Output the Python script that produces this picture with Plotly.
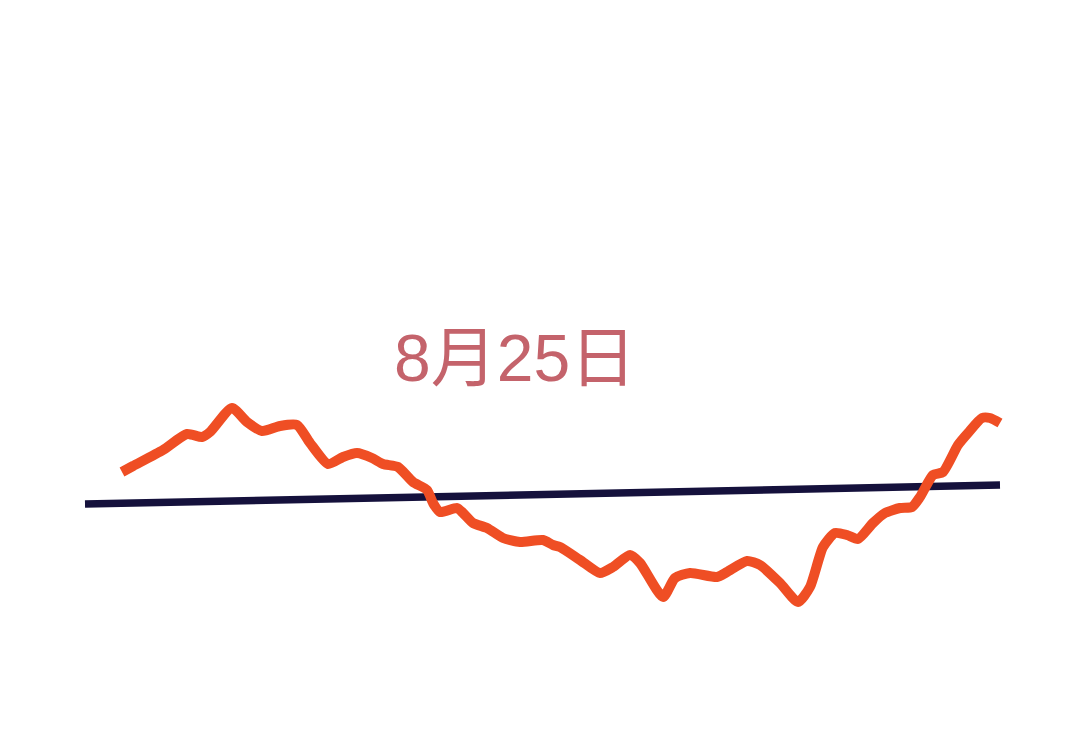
import plotly.graph_objects as go

# time axis (arbitrary units) and value series
price_t = [122, 133, 163, 187, 202, 210, 232, 247, 262, 280, 297, 310, 328, 343, 357, 372, 383, 398,
           413, 427, 433, 440, 457, 463, 473, 487, 503, 520, 543, 553, 560, 580, 600, 613, 630, 640,
           663, 675, 690, 717, 727, 747, 760, 780, 798, 810, 823, 835, 847, 858, 873, 885, 900, 912,
           920, 933, 943, 958, 968, 982, 990, 1000]
price_v = [270, 276, 292, 308, 305, 310, 334, 320, 311, 316, 317, 299, 278, 285, 289, 284, 278, 275,
           260, 252, 239, 230, 234, 229, 219, 214, 204, 200, 202, 197, 195, 182, 169, 175, 187, 179,
           145, 164, 169, 165, 170, 181, 177, 159, 140, 155, 195, 209, 207, 203, 219, 229, 234, 235,
           245, 267, 270, 297, 309, 324, 324, 319]
base_t = [85, 1000]
base_v = [238, 257]
label_text = "8月25日"
label_pos = (515, 384)

fig = go.Figure()
fig.add_trace(go.Scatter(x=base_t, y=base_v, mode="lines",
                         line=dict(color="#15113C", width=7.5), hoverinfo="skip"))
fig.add_trace(go.Scatter(x=price_t, y=price_v, mode="lines",
                         line=dict(color="#EF4E24", width=10, shape="spline", smoothing=0.6),
                         hoverinfo="skip"))
fig.add_annotation(x=label_pos[0], y=label_pos[1], text=label_text, showarrow=False,
                   font=dict(family="Liberation Sans, Noto Sans CJK SC", size=66, color="#C4636B"))
fig.update_layout(width=1080, height=742, margin=dict(l=0, r=0, t=0, b=0),
                  paper_bgcolor="white", plot_bgcolor="white", showlegend=False,
                  xaxis=dict(range=[8, 1088], visible=False, fixedrange=True),
                  yaxis=dict(range=[-8, 734], visible=False, fixedrange=True))
fig.write_html("out.html", config={"displayModeBar": False})
